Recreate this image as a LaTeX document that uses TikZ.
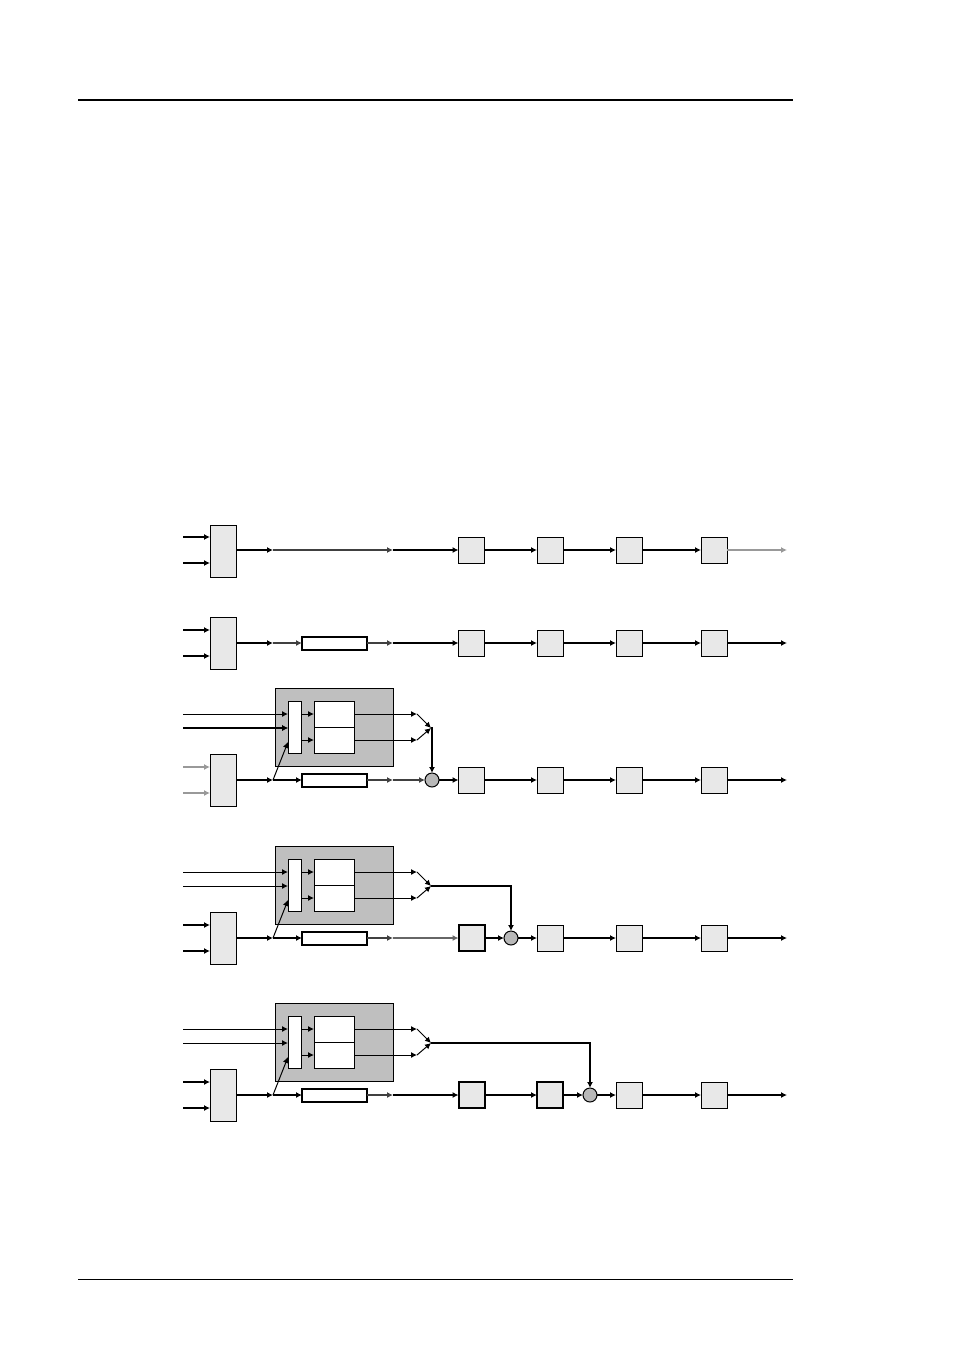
\documentclass[tikz,border=0pt]{standalone}
\usetikzlibrary{arrows.meta}
\definecolor{boxgray}{gray}{0.91}
\definecolor{blkgray}{gray}{0.75}
\definecolor{sumgray}{gray}{0.72}
\definecolor{linegray}{gray}{0.6}

\begin{document}
\begin{tikzpicture}[x=0.5pt,y=-0.5pt,
    tip/.style={-{Latex[length=3pt,width=3pt]}},
    sig/.style={tip,line width=1pt},
    ctl/.style={tip,line width=0.5pt},
    stage/.style={draw,line width=0.5pt,fill=boxgray,minimum width=13pt,minimum height=13pt,inner sep=0pt,outer sep=0pt},
    bigstage/.style={stage,line width=1pt},
    mux/.style={stage,minimum height=26pt},
    filt/.style={draw,line width=1pt,fill=white,minimum width=32.5pt,minimum height=6.5pt,inner sep=0pt,outer sep=0pt},
    blk/.style={draw,line width=0.5pt,fill=blkgray,minimum width=59pt,minimum height=39pt,inner sep=0pt,outer sep=0pt},
    gate/.style={draw,line width=0.5pt,fill=white,minimum width=6.5pt,minimum height=26pt,inner sep=0pt,outer sep=0pt},
    cell/.style={draw,line width=0.5pt,fill=white,minimum width=20pt,minimum height=13pt,inner sep=0pt,outer sep=0pt},
    sum/.style={circle,draw,line width=0.5pt,fill=sumgray,minimum size=7pt,inner sep=0pt,outer sep=0pt}]
    % \draw[help lines] grid(954,1351);

    \useasboundingbox (0,0) rectangle (954,1351);

    \coordinate (rl) at (78,100);
    \coordinate (rr) at (793,100);
    \draw[line width=1pt] (rl) -- (rr);
    \coordinate (fl) at (78,1279);
    \coordinate (fr) at (793,1279);
    \draw[line width=0.5pt] (fl) -- (fr);

    % row 1
    \node[mux] (mux1) at (223,551) {};
    \coordinate (i1a) at (183,537);
    \coordinate (i1b) at (183,563);
    \draw[sig] (i1a) -- (i1a -| mux1.west);
    \draw[sig] (i1b) -- (i1b -| mux1.west);
    \coordinate (p1) at (273,550);
    \coordinate (q1) at (393,550);
    \coordinate (e1) at (787,550);
    \foreach \n/\x in {a/471.5,b/550,c/629,d/714}
        \node[stage] (s1\n) at (\x,550) {};
    \draw[sig] (mux1.east |- p1) -- (p1);
    \draw[sig,draw=black!75] (p1) -- (q1);
    \draw[sig] (q1) -- (s1a);
    \foreach \a/\b in {a/b,b/c,c/d}
        \draw[sig] (s1\a) -- (s1\b);
    \draw[sig,draw=linegray] (s1d) -- (e1);

    % row 2
    \node[mux] (mux2) at (223,643) {};
    \coordinate (i2a) at (183,630);
    \coordinate (i2b) at (183,656);
    \draw[sig] (i2a) -- (i2a -| mux2.west);
    \draw[sig] (i2b) -- (i2b -| mux2.west);
    \coordinate (p2) at (273,643);
    \node[filt] (f2) at (334.5,643) {};
    \coordinate (q2) at (393,643);
    \coordinate (e2) at (787,643);
    \foreach \n/\x in {a/471.5,b/550,c/629,d/714}
        \node[stage] (s2\n) at (\x,643) {};
    \draw[sig] (mux2.east |- p2) -- (p2);
    \draw[sig,draw=black!75] (p2) -- (f2);
    \draw[sig,draw=black!75] (f2) -- (q2);
    \draw[sig] (q2) -- (s2a);
    \foreach \a/\b in {a/b,b/c,c/d}
        \draw[sig] (s2\a) -- (s2\b);
    \draw[sig] (s2d) -- (e2);

    % rows 3-5: common part
    \foreach \r/\y/\c in {3/780/linegray,4/938/black,5/1095/black} {
        \node[mux] (mux\r) at (223,\y) {};
        \coordinate (i\r a) at (183,\y-13);
        \coordinate (i\r b) at (183,\y+13);
        \draw[sig,draw=\c] (i\r a) -- (i\r a -| mux\r.west);
        \draw[sig,draw=\c] (i\r b) -- (i\r b -| mux\r.west);
        \coordinate (p\r) at (273,\y);
        \node[filt] (f\r) at (334.5,\y) {};
        \coordinate (q\r) at (393,\y);
        \coordinate (e\r) at (787,\y);
        \draw[sig] (mux\r.east |- p\r) -- (p\r);
        \draw[sig] (p\r) -- (f\r);
        \draw[sig,draw=black!75] (f\r) -- (q\r);

        \node[blk] (blk\r) at (334,\y-53) {};
        \node[gate] (g\r) at (294.5,\y-53) {};
        \node[cell] (w\r a) at (334,\y-66) {};
        \node[cell] (w\r b) at (334,\y-40) {};
        \coordinate (c\r a) at (183,\y-66);
        \coordinate (c\r b) at (183,\y-52);
        \coordinate (t\r) at (288,\y-38);
        \coordinate (o\r a) at (417,\y-66);
        \coordinate (o\r b) at (417,\y-40);
        \coordinate (m\r) at (431,\y-52);
        \draw[ctl] (c\r a) -- (c\r a -| g\r.west);
        \draw[ctl] (c\r b) -- (c\r b -| g\r.west);
        \draw[ctl] (g\r.east |- w\r a) -- (w\r a.west);
        \draw[ctl] (g\r.east |- w\r b) -- (w\r b.west);
        \draw[ctl] (p\r) -- (t\r);
        \draw[ctl] (w\r a.east) -- (o\r a);
        \draw[ctl] (w\r b.east) -- (o\r b);
        \draw[ctl] (o\r a) -- (m\r);
        \draw[ctl] (o\r b) -- (m\r);
    }
    \draw[ctl,line width=1pt] (c3b) -- (c3b -| g3.west);

    % row 3
    \node[sum] (sum3) at (432,780) {};
    \foreach \n/\x in {a/471.5,b/550,c/629,d/714}
        \node[stage] (s3\n) at (\x,780) {};
    \draw[sig,draw=black!75] (q3) -- (sum3);
    \draw[sig] (sum3) -- (s3a);
    \foreach \a/\b in {a/b,b/c,c/d}
        \draw[sig] (s3\a) -- (s3\b);
    \draw[sig] (s3d) -- (e3);
    \draw[sig] (m3) -- (m3 -| sum3) -- (sum3.north);

    % row 4
    \node[bigstage] (s4a) at (471.5,938) {};
    \node[sum] (sum4) at (511,938) {};
    \foreach \n/\x in {b/550,c/629,d/714}
        \node[stage] (s4\n) at (\x,938) {};
    \draw[sig,draw=black!60] (q4) -- (s4a);
    \draw[sig] (s4a) -- (sum4);
    \draw[sig] (sum4) -- (s4b);
    \foreach \a/\b in {b/c,c/d}
        \draw[sig] (s4\a) -- (s4\b);
    \draw[sig] (s4d) -- (e4);
    \draw[sig] (m4) -- (m4 -| sum4) -- (sum4.north);

    % row 5
    \node[bigstage] (s5a) at (471.5,1095) {};
    \node[bigstage] (s5b) at (550,1095) {};
    \node[sum] (sum5) at (590,1095) {};
    \foreach \n/\x in {c/629,d/714}
        \node[stage] (s5\n) at (\x,1095) {};
    \draw[sig] (q5) -- (s5a);
    \draw[sig] (s5a) -- (s5b);
    \draw[sig] (s5b) -- (sum5);
    \draw[sig] (sum5) -- (s5c);
    \draw[sig] (s5c) -- (s5d);
    \draw[sig] (s5d) -- (e5);
    \draw[sig] (m5) -- (m5 -| sum5) -- (sum5.north);
\end{tikzpicture}
\end{document}
